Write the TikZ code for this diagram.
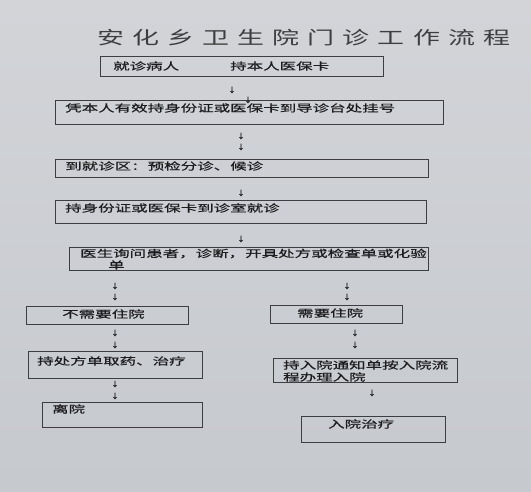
\documentclass[tikz,border=0pt]{standalone}
\usepackage{fontspec}
\newfontfamily\bodyfont[FakeStretch=1.65,FakeBold=0.6]{Noto Sans CJK SC}
\newfontfamily\titlefont[FakeStretch=1.5,LetterSpace=45]{Noto Sans CJK SC}
\newfontfamily\arrowfont[FakeBold=1]{Noto Sans CJK SC}
\definecolor{ink}{RGB}{28,28,30}
\definecolor{frame}{RGB}{60,62,66}
\definecolor{bgtop}{RGB}{210,212,216}
\definecolor{bgbot}{RGB}{198,201,206}
\tikzset{
  box/.style={draw=frame, line width=0.9pt, anchor=north west, inner sep=0pt},
  txt/.style={anchor=west, inner sep=0pt, text=ink, font=\bodyfont\fontsize{10}{12}\selectfont},
  darr/.style={inner sep=0pt, text=ink, font=\arrowfont\fontsize{7}{8}\selectfont},
}
\begin{document}
\begin{tikzpicture}[x=1pt,y=-1pt]
\shade[top color=bgtop, bottom color=bgbot] (0,0) rectangle (531,492);
\useasboundingbox (0,0) rectangle (531,492);

% title
\node[anchor=west, inner sep=0pt, text=ink!85, font=\titlefont\fontsize{18}{20}\selectfont] (title) at (97,38) {安化乡卫生院门诊工作流程};

% boxes
\node[box, minimum width=283pt, minimum height=20pt] (b1) at (100,56) {};
\node[box, minimum width=388pt, minimum height=24pt] (b2) at (55,100) {};
\node[box, minimum width=373pt, minimum height=18pt] (b3) at (55,159) {};
\node[box, minimum width=371pt, minimum height=23pt] (b4) at (55,200) {};
\node[box, minimum width=359pt, minimum height=23pt] (b5) at (69,247) {};
\node[box, minimum width=162pt, minimum height=18pt] (b6) at (26,306) {};
\node[box, minimum width=132pt, minimum height=18pt] (b7) at (270,305) {};
\node[box, minimum width=174pt, minimum height=27pt] (b8) at (28,351) {};
\node[box, minimum width=184pt, minimum height=24pt] (b9) at (273,358) {};
\node[box, minimum width=160pt, minimum height=25pt] (b10) at (42,402) {};
\node[box, minimum width=144pt, minimum height=26pt] (b11) at (301,416) {};

% texts
\node[txt] (t1a) at (113,66) {就诊病人};
\node[txt] (t1b) at (230,66) {持本人医保卡};
\node[txt] (t2) at (65,108) {凭本人有效持身份证或医保卡到导诊台处挂号};
\node[txt] (t3) at (65,166) {到就诊区：预检分诊、候诊};
\node[txt] (t4) at (65,208) {持身份证或医保卡到诊室就诊};
\node[txt] (t5a) at (80,253.5) {医生询问患者，诊断，开具处方或检查单或化验};
\node[txt] (t5b) at (108,265) {单};
\node[txt] (t6) at (62,314) {不需要住院};
\node[txt] (t7) at (297,313) {需要住院};
\node[txt] (t8) at (37,361) {持处方单取药、治疗};
\node[txt] (t9a) at (283,365) {持入院通知单按入院流};
\node[txt] (t9b) at (283,377) {程办理入院};
\node[txt] (t10) at (52,409) {离院};
\node[txt] (t11) at (328,424) {入院治疗};

% small arrow marks
\node[darr] (a1) at (232,90) {↓};
\node[darr] (a0) at (248,100) {↓};
\node[darr] (a2) at (241,136) {↓};
\node[darr] (a3) at (241,147) {↓};
\node[darr] (a4) at (241,193) {↓};
\node[darr] (a5) at (241,239) {↓};
\node[darr] (a6) at (115,286) {↓};
\node[darr] (a7) at (115,297) {↓};
\node[darr] (a8) at (347,286) {↓};
\node[darr] (a9) at (347,297) {↓};
\node[darr] (a10) at (115,333) {↓};
\node[darr] (a11) at (115,345) {↓};
\node[darr] (a12) at (355,333) {↓};
\node[darr] (a13) at (355,345) {↓};
\node[darr] (a14) at (115,384) {↓};
\node[darr] (a15) at (115,396) {↓};
\node[darr] (a16) at (372,393) {↓};
\end{tikzpicture}
\end{document}
